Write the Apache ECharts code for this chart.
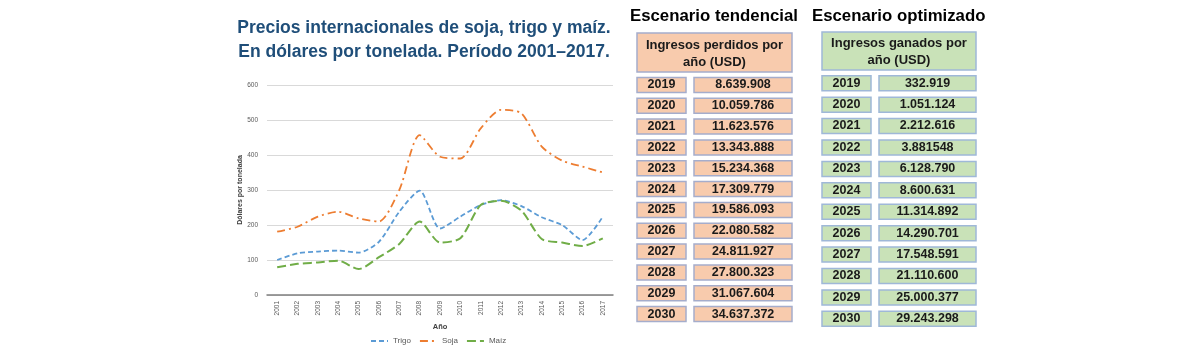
<!DOCTYPE html>
<html><head><meta charset="utf-8">
<script src="https://cdn.jsdelivr.net/npm/echarts@6/dist/echarts.min.js"></script>
<style>html,body{margin:0;padding:0;background:#fff}#c{width:1200px;height:350px}</style>
</head><body><div id="c"></div>
<script>
const years = ['2001','2002','2003','2004','2005','2006','2007','2008','2009','2010','2011','2012','2013','2014','2015','2016','2017'];
const trigo = [100,119,124,127,121,152,238,298,190,224,257,271,254,222,200,157,224];
const soja  = [181,195,224,238,219,210,300,457,395,390,476,529,519,424,384,367,350];
const maiz  = [79,89,93,98,74,108,146,210,150,162,257,269,241,160,150,140,162];

const tendYears = ['2019','2020','2021','2022','2023','2024','2025','2026','2027','2028','2029','2030'];
const tendValues = ['8.639.908','10.059.786','11.623.576','13.343.888','15.234.368','17.309.779','19.586.093','22.080.582','24.811.927','27.800.323','31.067.604','34.637.372'];
const optYears = ['2019','2020','2021','2022','2023','2024','2025','2026','2027','2028','2029','2030'];
const optValues = ['332.919','1.051.124','2.212.616','3.881548','6.128.790','8.600.631','11.314.892','14.290.701','17.548.591','21.110.600','25.000.377','29.243.298'];

const chart = echarts.init(document.getElementById('c'));
const font = 'Liberation Sans, Arial, sans-serif';

function tableRender(years, values, fill, stroke) {
  return function (params, api) {
    const idx = api.value(0);
    const cs = params.coordSys;
    const yc = api.coord([0, idx])[1];
    const h = 15;
    const yearW = Math.round(cs.width * 0.315);
    const gap = Math.round(cs.width * 0.05);
    const x0 = cs.x, x1 = cs.x + yearW + gap;
    const w1 = cs.width - yearW - gap;
    return {
      type: 'group',
      children: [
        {type: 'rect', shape: {x: x0, y: yc - h / 2, width: yearW, height: h},
          style: {fill: fill, stroke: stroke, lineWidth: 1.5}},
        {type: 'text', x: x0 + yearW / 2, y: yc,
          style: {text: years[idx], fill: '#1a1a1a', font: 'bold 12.5px ' + font, align: 'center', verticalAlign: 'middle'}},
        {type: 'rect', shape: {x: x1, y: yc - h / 2, width: w1, height: h},
          style: {fill: fill, stroke: stroke, lineWidth: 1.5}},
        {type: 'text', x: x1 + w1 / 2, y: yc,
          style: {text: values[idx], fill: '#1a1a1a', font: 'bold 12.5px ' + font, align: 'center', verticalAlign: 'middle'}}
      ]
    };
  };
}

const peach = '#f8cbad', peachStroke = '#a5adcc';
const green = '#c9e2b8', greenStroke = '#9fb8d8';

chart.setOption({
  animation: false,
  title: {
    text: 'Precios internacionales de soja, trigo y maíz.\nEn dólares por tonelada. Período 2001–2017.',
    left: 419, top: 11, textAlign: 'center',
    textStyle: {color: '#1f4e79', fontSize: 17.5, fontWeight: 'bold', fontFamily: font, lineHeight: 24}
  },
  legend: {
    data: ['Trigo', 'Soja', 'Maíz'],
    top: 332, left: 365,
    itemWidth: 17, itemHeight: 8, itemGap: 8,
    itemStyle: {opacity: 0},
    lineStyle: {width: 2},
    textStyle: {fontSize: 8, color: '#595959', fontFamily: font}
  },
  grid: [
    {left: 267, right: 587, top: 85, bottom: 55},
    {left: 637, width: 155, top: 74.5, height: 250},
    {left: 822, width: 154, top: 72.5, height: 257}
  ],
  xAxis: [
    {type: 'category', data: years, gridIndex: 0, boundaryGap: true,
      name: 'Año', nameLocation: 'middle', nameGap: 25,
      nameTextStyle: {fontSize: 7.5, fontWeight: 'bold', color: '#404040', fontFamily: font},
      axisLine: {lineStyle: {color: '#7f7f7f', width: 1.5}}, axisTick: {show: false},
      axisLabel: {rotate: 90, fontSize: 6.5, color: '#595959', fontFamily: font, interval: 0, margin: 6}},
    {type: 'value', gridIndex: 1, min: 0, max: 1, show: false},
    {type: 'value', gridIndex: 2, min: 0, max: 1, show: false}
  ],
  yAxis: [
    {type: 'value', gridIndex: 0, min: 0, max: 600, interval: 100,
      name: 'Dólares por tonelada', nameLocation: 'middle', nameGap: 19,
      nameTextStyle: {fontSize: 7, fontWeight: 'bold', color: '#404040', fontFamily: font},
      axisLine: {show: false}, axisTick: {show: false},
      splitLine: {lineStyle: {color: '#d9d9d9', width: 1}},
      axisLabel: {fontSize: 6.5, color: '#595959', fontFamily: font, margin: 9}},
    {type: 'category', gridIndex: 1, data: tendYears, inverse: true, show: false},
    {type: 'category', gridIndex: 2, data: optYears, inverse: true, show: false}
  ],
  series: [
    {name: 'Trigo', type: 'line', data: trigo, smooth: 0.25, symbol: 'none', color: '#5b9bd5',
      lineStyle: {width: 1.8, type: [5, 3]}},
    {name: 'Soja', type: 'line', data: soja, smooth: 0.25, symbol: 'none', color: '#ed7d31',
      lineStyle: {width: 1.8, type: [8, 4, 2, 4]}},
    {name: 'Maíz', type: 'line', data: maiz, smooth: 0.25, symbol: 'none', color: '#70ad47',
      lineStyle: {width: 2, type: [9, 4]}},
    {type: 'custom', xAxisIndex: 1, yAxisIndex: 1, data: tendYears.map((y, i) => [i]),
      renderItem: tableRender(tendYears, tendValues, peach, peachStroke), silent: true},
    {type: 'custom', xAxisIndex: 2, yAxisIndex: 2, data: optYears.map((y, i) => [i]),
      renderItem: tableRender(optYears, optValues, green, greenStroke), silent: true}
  ],
  graphic: [
    {type: 'text', left: 630, top: 8,
      style: {text: 'Escenario tendencial', fill: '#000', font: 'bold 16.8px ' + font}},
    {type: 'text', left: 812, top: 8,
      style: {text: 'Escenario optimizado', fill: '#000', font: 'bold 16.8px ' + font}},
    {type: 'rect', shape: {x: 637, y: 33, width: 155, height: 39},
      style: {fill: peach, stroke: peachStroke, lineWidth: 1.5}},
    {type: 'text', x: 714.5, y: 53.5,
      style: {text: 'Ingresos perdidos por\naño (USD)', fill: '#1a1a1a', font: 'bold 13px ' + font,
        align: 'center', verticalAlign: 'middle', lineHeight: 17}},
    {type: 'rect', shape: {x: 822, y: 32, width: 154, height: 38},
      style: {fill: green, stroke: greenStroke, lineWidth: 1.5}},
    {type: 'text', x: 899, y: 52,
      style: {text: 'Ingresos ganados por\naño (USD)', fill: '#1a1a1a', font: 'bold 13px ' + font,
        align: 'center', verticalAlign: 'middle', lineHeight: 17}}
  ]
});
</script></body></html>
